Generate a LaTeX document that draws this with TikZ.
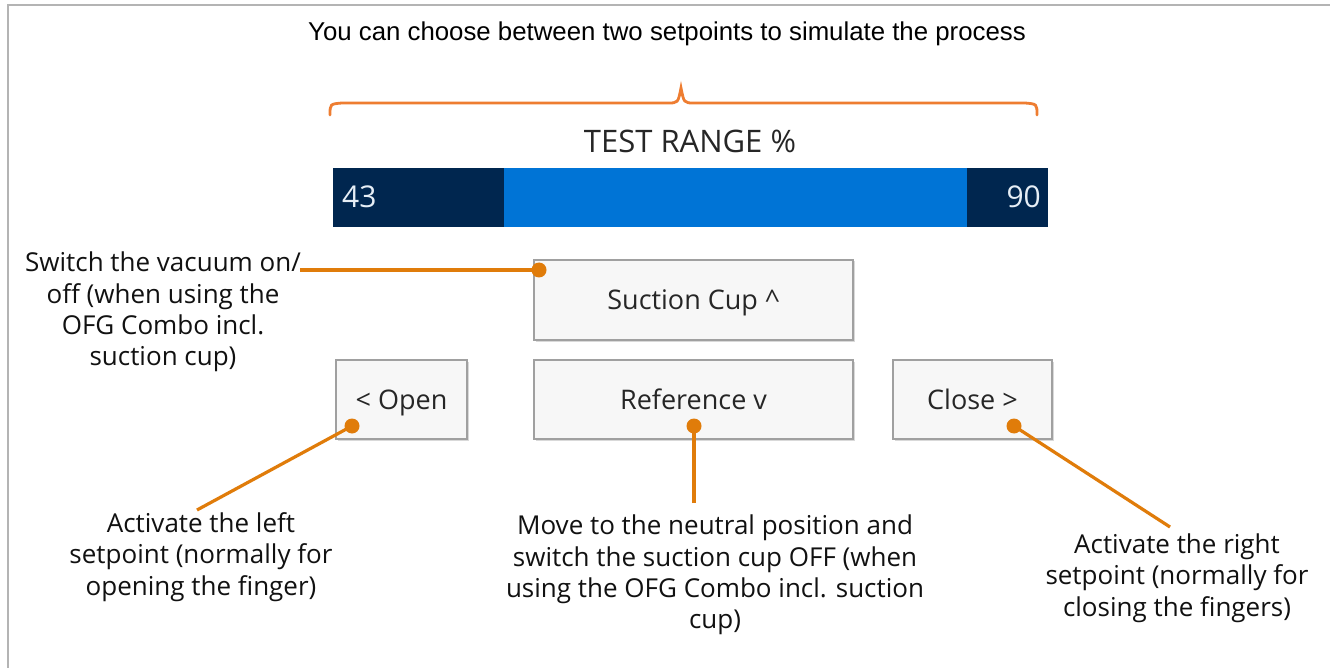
\documentclass[tikz,border=0pt]{standalone}
\usepackage{fontspec}
\setmainfont{Open Sans}
\newfontfamily\titlefont{Liberation Sans}
\usetikzlibrary{shadows}
\definecolor{callout}{HTML}{E07C0A}
\definecolor{braceor}{HTML}{EE7D31}
\definecolor{navybar}{HTML}{00264F}
\definecolor{midbar}{HTML}{0074D6}
\definecolor{btnfill}{HTML}{F7F7F7}
\definecolor{btnline}{HTML}{A0A0A0}
\definecolor{frame}{HTML}{B4B4B4}
\definecolor{txt}{HTML}{111111}
\definecolor{numtxt}{HTML}{E6EEF6}
\begin{document}
\begin{tikzpicture}[x=1pt,y=-1pt,
  btn/.style={draw=btnline, fill=btnfill, line width=1.6pt, inner sep=0pt,
    font=\fontsize{27}{30}\selectfont, text=black!85, text height=19pt, text depth=0pt,
    drop shadow={shadow xshift=1.5pt, shadow yshift=-1.5pt, fill=black, opacity=0.15}},
  note/.style={align=center, inner sep=0pt, font=\fontsize{26}{31.3}\selectfont, text=txt},
  lead/.style={draw=callout, line width=3.2pt},
  dot/.style={circle, fill=callout, inner sep=0pt, minimum size=15pt},
  barseg/.style={inner sep=0pt, anchor=north west, minimum height=59pt},
  num/.style={inner sep=0pt, text=numtxt, font=\fontsize{30}{32}\selectfont, text height=21pt, text depth=0pt}]
\useasboundingbox (0,0) rectangle (1330,668);
\fill[white] (0,0) rectangle (1330,668);
\draw[frame, line width=2pt] (8,668) -- (8,5) -- (1330,5);

% title
\node[inner sep=0pt, font=\titlefont\fontsize{25.8}{30}\selectfont, text height=19pt, text depth=0pt] (title) at (667,31) {You can choose between two setpoints to simulate the process};

% brace
\draw[braceor, line width=2.8pt, line cap=round]
  (330,115) .. controls (330,104) .. (342,103) -- (668,103)
  .. controls (678,103) .. (681,88)
  .. controls (684,103) .. (694,103) -- (1025,103)
  .. controls (1037,104) .. (1037,115);

\node[inner sep=0pt, font=\fontsize{31}{34}\selectfont, text=black!85, text height=22pt, text depth=0pt] (range) at (690,142) {TEST RANGE \%};

% bar
\node[barseg, fill=midbar, minimum width=715pt] (bar) at (333,168) {};
\node[barseg, fill=navybar, minimum width=171pt] (lo) at (333,168) {};
\node[barseg, fill=navybar, minimum width=81pt] (hi) at (967,168) {};
\node[num, anchor=west] (n43) at (342,197) {43};
\node[num, anchor=east] (n90) at (1041,197) {90};

% buttons
\node[btn, minimum width=319pt, minimum height=80pt] (suction) at (693.5,300) {Suction Cup \textasciicircum};
\node[btn, minimum width=131pt, minimum height=79pt] (open) at (401.5,399.5) {< Open};
\node[btn, minimum width=319pt, minimum height=79pt] (ref) at (693.5,399.5) {Reference v};
\node[btn, minimum width=159pt, minimum height=79pt] (close) at (972.5,399.5) {Close >};

% notes
\node[note] (nvac) at (163,312) {Switch the vacuum on/\\off (when using the\\OFG Combo incl.\\suction cup)};
\node[note] (nleft) at (201,557) {Activate the left\\setpoint (normally for\\opening the finger)};
\node[note] (nmid) at (715,575) {Move to the neutral position and\\switch the suction cup OFF (when\\using the OFG Combo incl. suction\\cup)};
\node[note] (nright) at (1177,578) {Activate the right\\setpoint (normally for\\closing the fingers)};

% callout dots and leaders
\node[dot] (d1) at (539,270) {};
\node[dot] (d2) at (352,426) {};
\node[dot] (d3) at (694,426) {};
\node[dot] (d4) at (1014,426) {};
\coordinate (e1) at (300,270);
\coordinate (e2) at (197,510);
\coordinate (e3) at (694,503);
\coordinate (e4) at (1170,527);
\draw[lead] (e1) -- (d1.center);
\draw[lead] (e2) -- (d2.center);
\draw[lead] (e3) -- (d3.center);
\draw[lead] (e4) -- (d4.center);
\end{tikzpicture}
\end{document}
